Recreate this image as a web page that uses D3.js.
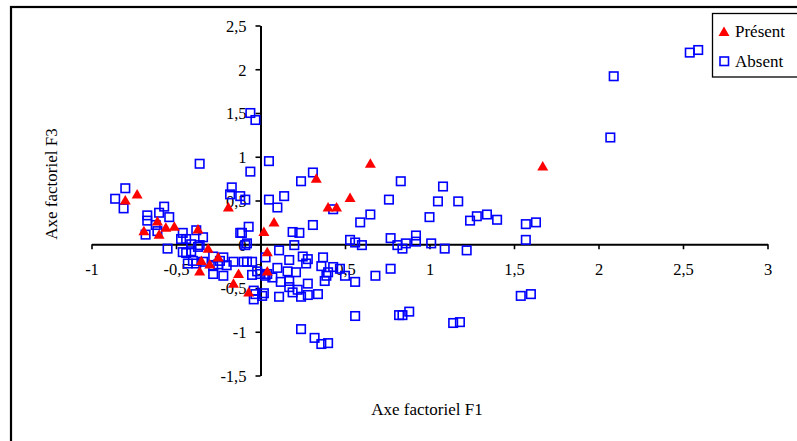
<!DOCTYPE html>
<html><head><meta charset="utf-8">
<script src="https://cdn.jsdelivr.net/npm/d3@7"></script>
<style>body{margin:0;background:#fff}svg{display:block}text{font-family:"Liberation Serif","DejaVu Serif",serif;fill:#000}</style>
</head><body><svg id="c" width="797" height="441"></svg>
<script>
// Series: Présent (red triangles)
const presentF1 = [-0.73,-0.80,-0.61,-0.69,-0.60,-0.56,-0.51,-0.37,-0.31,-0.25,-0.35,-0.30,-0.36,-0.13,-0.16,-0.07,-0.19,0.02,0.08,0.04,0.04,0.33,0.40,0.45,0.53,0.65,1.67];
const presentF3 = [0.57,0.50,0.26,0.15,0.11,0.19,0.20,0.17,-0.05,-0.15,-0.19,-0.23,-0.31,-0.34,-0.45,-0.55,0.42,0.14,0.25,-0.09,-0.31,0.75,0.42,0.42,0.53,0.92,0.89];
// Series: Absent (blue squares)
const absentF1 = [-0.80,-0.86,-0.81,-0.67,-0.67,-0.57,-0.60,-0.54,-0.62,-0.61,-0.68,-0.55,-0.36,-0.46,-0.47,-0.44,-0.38,-0.34,-0.46,-0.44,-0.41,-0.37,-0.40,-0.43,-0.38,-0.34,-0.28,-0.24,-0.22,-0.16,-0.28,-0.22,-0.11,-0.07,-0.09,-0.10,-0.08,-0.05,-0.41,-0.36,-0.28,-0.25,-0.20,
 -0.06,-0.03,0.05,-0.06,-0.17,-0.18,-0.12,-0.09,0.05,0.10,0.14,0.24,0.31,0.43,0.59,0.65,-0.12,0.31,0.19,0.23,0.20,0.11,0.03,0.17,0.25,0.28,0.27,0.37,-0.08,-0.02,-0.05,0.04,0.07,0.10,0.16,0.21,0.36,0.43,0.47,0.40,0.39,0.50,0.38,0.56,0.12,0.17,0.17,0.28,0.22,0.24,0.19,0.28,0.34,0.11,0.01,-0.04,-0.04,0.56,0.24,0.32,0.36,0.40,0.53,0.56,0.60,0.00,0.03,-0.03,0.02,
 0.83,1.08,0.76,1.05,1.17,1.00,1.24,1.28,1.34,1.40,1.57,1.63,1.57,0.77,0.81,0.84,0.86,0.92,0.92,1.01,1.09,1.22,0.68,0.77,0.82,0.84,0.88,1.14,1.18,1.54,1.60,2.09,2.07,2.54,2.59];
const absentF3 = [0.64,0.52,0.41,0.33,0.27,0.43,0.36,0.31,0.22,0.15,0.11,-0.05,0.92,0.13,0.06,0.06,0.16,0.08,-0.09,-0.10,-0.08,-0.03,-0.19,-0.22,-0.22,-0.20,-0.14,-0.19,-0.15,-0.20,-0.34,-0.36,0.13,0.20,-0.01,-0.20,-0.20,-0.20,0.00,-0.01,-0.25,-0.23,-0.24,
 1.50,1.42,0.95,0.83,0.65,0.57,0.55,0.51,0.51,0.42,0.55,0.72,0.82,0.40,0.25,0.34,0.13,0.22,0.14,0.13,-0.01,-0.07,-0.15,-0.18,-0.14,-0.17,-0.22,-0.15,0.01,-0.31,-0.35,-0.34,-0.38,-0.27,-0.31,-0.32,-0.25,-0.26,-0.28,-0.32,-0.36,-0.36,-0.42,-0.43,-0.43,-0.42,-0.49,-0.45,-0.52,-0.60,-0.55,-0.58,-0.57,-0.60,-0.59,-0.63,-0.53,-0.82,-0.97,-1.07,-1.14,-1.13,0.05,0.02,-0.01,-0.34,-0.36,-0.57,-0.56,
 0.72,0.66,0.51,0.49,0.49,0.31,0.27,0.32,0.34,0.28,0.23,0.25,0.05,0.07,-0.01,-0.05,0.01,0.10,0.03,0.01,-0.05,-0.07,-0.36,-0.28,-0.81,-0.81,-0.77,-0.90,-0.89,-0.59,-0.57,1.92,1.22,2.19,2.22];
const xTicks = [-1,-0.5,0,0.5,1,1.5,2,2.5,3];
const yTicks = [-1.5,-1,-0.5,0,0.5,1,1.5,2,2.5];
const seriesNames = ["Présent","Absent"];
const xTitle = "Axe factoriel F1", yTitle = "Axe factoriel F3";

const FONT = '"Liberation Serif","DejaVu Serif",serif';
const svg = d3.select("#c");
const fmt = v => String(v).replace(".", ",");
const x = d3.scaleLinear().domain([-1,3]).range([91.5,767.5]);
const y = d3.scaleLinear().domain([-1.5,2.5]).range([375.5,25.5]);

// outer frame
svg.append("rect").attr("x",11).attr("y",7).attr("width",800).attr("height",440)
  .attr("fill","none").attr("stroke","#000").attr("stroke-width",2.2);

// x axis at y=0
const gx = svg.append("g").attr("transform",`translate(0,${y(0)})`)
  .call(d3.axisBottom(x).tickValues(xTicks).tickSize(5).tickSizeOuter(0).tickFormat(d=>d===0?"":fmt(d)));
// y axis at x=0
const gy = svg.append("g").attr("transform",`translate(${x(0)},0)`)
  .call(d3.axisLeft(y).tickValues(yTicks).tickSize(5).tickSizeOuter(0).tickFormat(fmt));
[gx,gy].forEach(g=>{
  g.attr("font-family",FONT).attr("font-size",16.5);
  g.select(".domain").attr("stroke","#000").attr("stroke-width",2);
  g.selectAll(".tick line").attr("stroke","#000").attr("stroke-width",1.6);
  g.selectAll("text").attr("font-family",FONT).style("font-family",FONT).style("font-size","16.5px").attr("fill","#000");
});
gx.selectAll("text").attr("dy","0").attr("y",31);
gy.selectAll("text").attr("x",-14).attr("dy","0.35em");
// "0" label for x axis
svg.append("text").attr("x",x(0)-2).attr("y",y(0)+31).attr("text-anchor","middle").attr("font-family",FONT).style("font-size","16.5px").text("0");

const sq = 8.5;
const triPath = "M0,-5.5L5.5,4L-5.5,4Z";
const absent = absentF1.map((v,i)=>[v,absentF3[i]]);
const present = presentF1.map((v,i)=>[v,presentF3[i]]);

svg.append("g").selectAll("rect").data(absent).join("rect")
  .attr("x",d=>x(d[0])-sq/2).attr("y",d=>y(d[1])-sq/2).attr("width",sq).attr("height",sq)
  .attr("fill","none").attr("stroke","#0000ff").attr("stroke-width",1.6);
svg.append("g").selectAll("path").data(present).join("path")
  .attr("d",triPath).attr("transform",d=>`translate(${x(d[0])},${y(d[1])})`).attr("fill","#ff0000");

// axis titles
svg.append("text").attr("x",427).attr("y",415).attr("text-anchor","middle").attr("font-family",FONT).style("font-size","17px").text(xTitle);
svg.append("text").attr("transform","translate(57,184) rotate(-90)").attr("text-anchor","middle").attr("font-family",FONT).style("font-size","17px").text(yTitle);

// legend
const lg = svg.append("g").attr("font-family",FONT);
lg.append("rect").attr("x",712.5).attr("y",13.5).attr("width",90).attr("height",63.5).attr("fill","#fff").attr("stroke","#000").attr("stroke-width",1.3);
lg.append("path").attr("d",triPath).attr("transform","translate(724,32)").attr("fill","#ff0000");
lg.append("rect").attr("x",720).attr("y",57).attr("width",sq).attr("height",sq).attr("fill","none").attr("stroke","#0000ff").attr("stroke-width",1.6);
lg.append("text").attr("x",735).attr("y",37).attr("font-family",FONT).style("font-size","17px").text(seriesNames[0]);
lg.append("text").attr("x",735).attr("y",67).attr("font-family",FONT).style("font-size","17px").text(seriesNames[1]);
</script></body></html>
